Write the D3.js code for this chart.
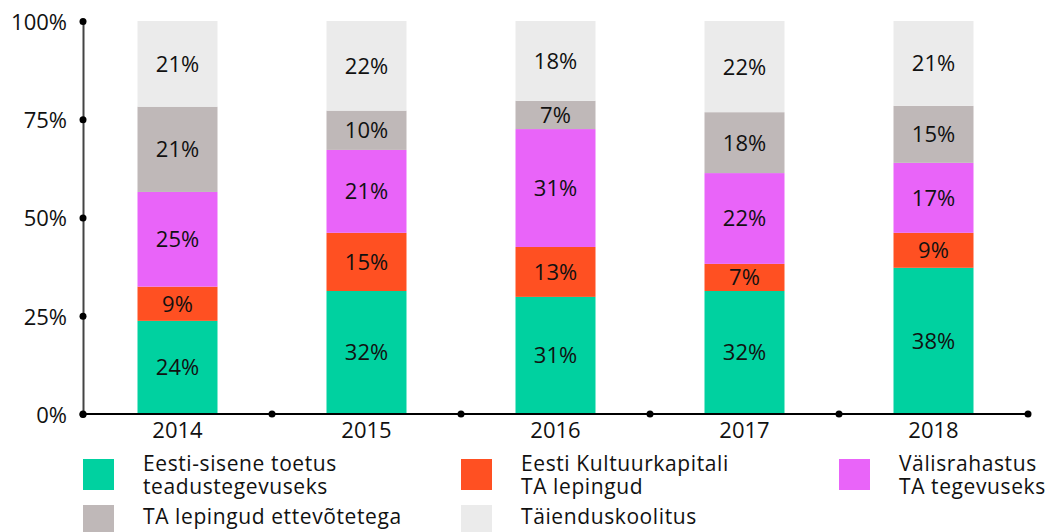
<!DOCTYPE html>
<html>
<head>
<meta charset="utf-8">
<script src="https://cdn.jsdelivr.net/npm/d3@7"></script>
<style>
  body { margin: 0; background: #fff; }
  svg text { font-family: "Open Sans", sans-serif; fill: #111; }
</style>
</head>
<body>
<div id="chart"></div>
<script>
var years = ["2014", "2015", "2016", "2017", "2018"]
var seriesNames = [
  ["Eesti-sisene toetus", "teadustegevuseks"],
  ["Eesti Kultuurkapitali", "TA lepingud"],
  ["Välisrahastus", "TA tegevuseks"],
  ["TA lepingud ettevõtetega"],
  ["Täienduskoolitus"]
]
var colors = ["#00d1a0", "#ff5022", "#e964f9", "#bfb8b8", "#ebebeb"]

// shares as drawn, per series
var estonian  = [23.7, 31.3, 29.8, 31.3, 37.2]
var kultuur   = [8.7, 14.8, 12.7, 6.9, 8.9]
var foreign   = [24.1, 21.1, 30.0, 23.1, 17.8]
var companies = [21.7, 10.0, 7.2, 15.5, 14.5]
var training  = [21.8, 22.8, 20.3, 23.2, 21.6]

// labels printed on the segments
var estonianLbl  = ["24%", "32%", "31%", "32%", "38%"]
var kultuurLbl   = ["9%", "15%", "13%", "7%", "9%"]
var foreignLbl   = ["25%", "21%", "31%", "22%", "17%"]
var companiesLbl = ["21%", "10%", "7%", "18%", "15%"]
var trainingLbl  = ["21%", "22%", "18%", "22%", "21%"]

var yTicks = [0, 0.25, 0.5, 0.75, 1]

var values = [estonian, kultuur, foreign, companies, training]
var labels = [estonianLbl, kultuurLbl, foreignLbl, companiesLbl, trainingLbl]

var width = 1053, height = 532

var svg = d3.select("#chart").append("svg")
    .attr("width", width)
    .attr("height", height)

var x = d3.scaleBand()
    .domain(years)
    .range([83, 1028])
    .padding(0)

var y = d3.scaleLinear()
    .domain([0, 1])
    .range([414, 21])

var barW = 80

// build stacked rows
var rows = years.map(function(yr, i) {
  var row = {year: yr}
  values.forEach(function(s, k) { row["s" + k] = s[i] / 100 })
  return row
})
var keys = values.map(function(s, k) { return "s" + k })
var stacked = d3.stack().keys(keys)(rows)

var layer = svg.selectAll(".layer")
  .data(stacked)
  .enter().append("g")
    .attr("class", "layer")
    .attr("fill", function(d, k) { return colors[k] })

layer.selectAll("rect")
  .data(function(d) { return d })
  .enter().append("rect")
    .attr("x", function(d) { return x(d.data.year) + x.bandwidth() / 2 - barW / 2 })
    .attr("width", barW)
    .attr("y", function(d) { return y(d[1]) })
    .attr("height", function(d) { return y(d[0]) - y(d[1]) })

layer.each(function(ser, k) {
  d3.select(this).selectAll("text")
    .data(ser)
    .enter().append("text")
      .attr("x", function(d) { return x(d.data.year) + x.bandwidth() / 2 })
      .attr("y", function(d) { return (y(d[0]) + y(d[1])) / 2 })
      .attr("dy", "0.36em")
      .attr("text-anchor", "middle")
      .style("font-size", "22px")
      .text(function(d, i) { return labels[k][i] })
})

// y axis
var yAxis = svg.append("g")
    .attr("transform", "translate(83,0)")
    .call(d3.axisLeft(y).tickValues(yTicks).tickFormat(d3.format(".0%")).tickSize(0).tickPadding(16))
yAxis.select(".domain").attr("stroke", "#444").attr("stroke-width", 2)
yAxis.selectAll(".tick text")
    .attr("dy", "0.38em")
    .style("font-size", "22px")
    .style("font-family", "Open Sans, sans-serif")
    .attr("fill", "#111")
yAxis.selectAll(".tick").append("circle").attr("r", 3.5).attr("fill", "#000")

// x axis
svg.append("line")
    .attr("x1", 83).attr("x2", 1030)
    .attr("y1", y(0)).attr("y2", y(0))
    .attr("stroke", "#000").attr("stroke-width", 2)

var xAxis = svg.append("g")
    .attr("transform", "translate(0," + y(0) + ")")
    .call(d3.axisBottom(x).tickSize(0).tickPadding(8))
xAxis.select(".domain").remove()
xAxis.selectAll(".tick text")
    .style("font-size", "22px")
    .style("font-family", "Open Sans, sans-serif")
    .attr("fill", "#111")

svg.selectAll(".xdot")
  .data(years.concat(["end"]))
  .enter().append("circle")
    .attr("class", "xdot")
    .attr("cx", function(d, i) { return i < years.length ? x(d) : x.range()[1] })
    .attr("cy", y(0))
    .attr("r", 3.5)
    .attr("fill", "#000")

// legend
var legCols = [x(years[0]), x(years[2]), x(years[4])]
var legend = svg.selectAll(".legend")
  .data(seriesNames)
  .enter().append("g")
    .attr("class", "legend")
    .attr("transform", function(d, k) {
      return "translate(" + legCols[k % 3] + "," + (k < 3 ? 459 : 505) + ")"
    })

legend.append("rect")
    .attr("width", 31).attr("height", 31)
    .attr("fill", function(d, k) { return colors[k] })

legend.each(function(lines, k) {
  d3.select(this).selectAll("text")
    .data(lines)
    .enter().append("text")
      .attr("x", 60)
      .attr("y", function(d, i) { return (k < 3 ? 12 : 19) + i * 23 })
      .style("font-size", "21px")
      .style("letter-spacing", "0.6px")
      .text(function(d) { return d })
})
</script>
</body>
</html>
